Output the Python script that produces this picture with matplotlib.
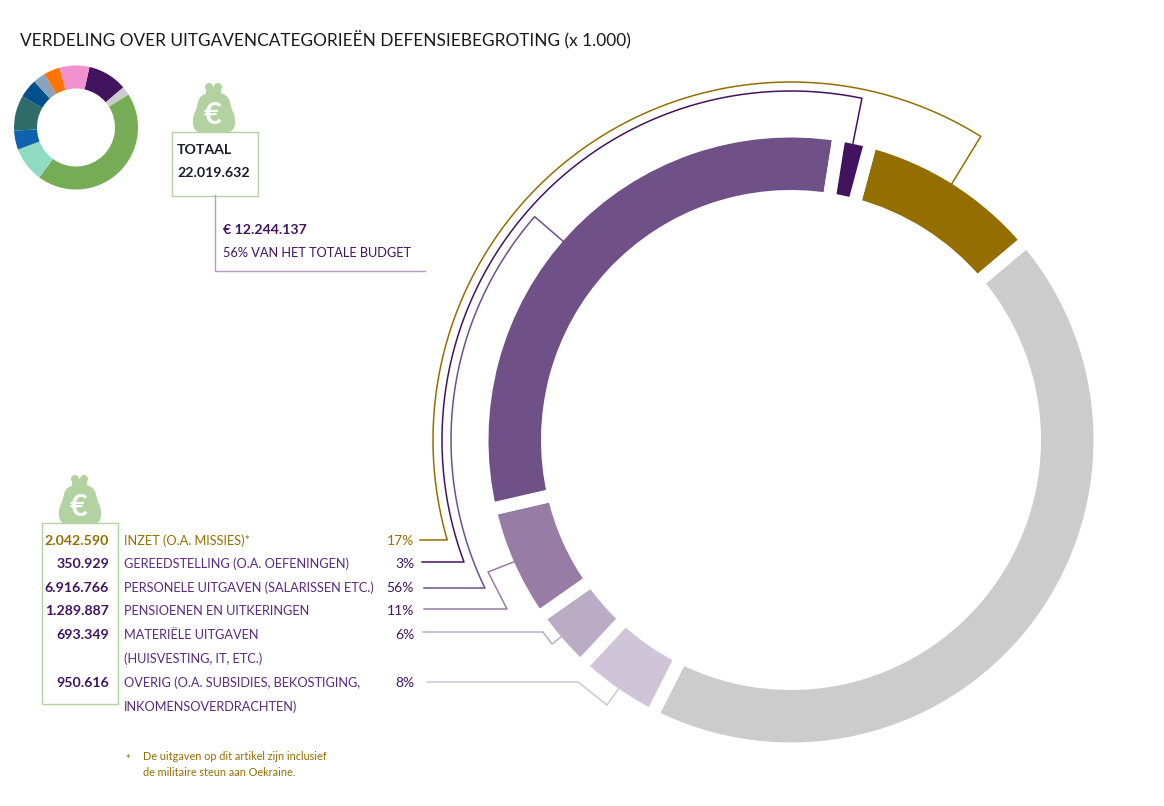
import numpy as np
import matplotlib
matplotlib.use("Agg")
import matplotlib.pyplot as plt
from matplotlib.patches import PathPatch, Circle, Rectangle
from matplotlib.path import Path

W, H = 1164, 806
plt.rcParams['font.family'] = ['Lato', 'DejaVu Sans']

# data, ring values are degrees
ring_names = ['Inzet', 'Rest', 'Overig', 'Materieel', 'Pensioenen', 'Personeel', 'Gereedstelling']
ring_values = [34.8, 157.0, 16.1, 12.0, 22.1, 112.0, 6.0]
ring_colors = ['#946f00', '#cccccc', '#d0c5d8', '#bbacc6', '#977ca5', '#6f5087', '#42145f']

small_values = [10.3, 2.3, 44.0, 9.1, 5.0, 9.2, 4.9, 3.2, 4.2, 7.8]
small_colors = ['#42145f', '#cccccc', '#77ac57', '#90dcc3', '#0f62ad', '#2f6b68',
                '#01508c', '#8aa3bd', '#ff7300', '#f291cf']

row_amounts = ['2.042.590', '350.929', '6.916.766', '1.289.887', '693.349', '950.616']
row_labels = ['INZET (O.A. MISSIES)*', 'GEREEDSTELLING (O.A. OEFENINGEN)',
              'PERSONELE UITGAVEN (SALARISSEN ETC.)', 'PENSIOENEN EN UITKERINGEN',
              'MATERIËLE UITGAVEN\n(HUISVESTING, IT, ETC.)',
              'OVERIG (O.A. SUBSIDIES, BEKOSTIGING,\nINKOMENSOVERDRACHTEN)']
row_pcts = ['17%', '3%', '56%', '11%', '6%', '8%']
row_y = [541, 564, 588, 611, 635, 683]

GOLD = '#946f00'
PURPLE = '#42145f'
GREEN = '#b2d2a2'
CX, CY = 791, 440


def pixel_axes(cx, cy, r):
    ax = fig.add_axes([(cx - r) / W, 1 - (cy + r) / H, 2 * r / W, 2 * r / H])
    ax.set_axis_off()
    return ax


def purse(ax, x, y):
    # x, y = top left of the icon, about 44 x 49 px
    verts = [(11, 12), (5, 15), (6, 24), (3, 29), (0, 34), (-1, 49), (8, 49), (14, 49), (30, 49), (36, 49),
             (45, 49), (44, 34), (41, 29), (38, 24), (39, 15), (33, 12), (26, 8), (18, 8), (11, 12)]
    codes = [Path.MOVETO] + [Path.CURVE4] * 18
    verts = [(x + a, y + b) for a, b in verts]
    ax.add_patch(PathPatch(Path(verts, codes), fc=GREEN, ec='none'))
    ax.add_patch(Circle((x + 17, y + 4), 4, fc=GREEN, ec='none'))
    ax.add_patch(Circle((x + 26, y + 4), 4, fc=GREEN, ec='none'))
    ax.add_patch(Rectangle((x + 14, y + 4), 15, 8, fc=GREEN, ec='none'))
    ax.text(x + 20, y + 32, '€', color='white', fontsize=22, fontweight='bold', ha='center', va='center')


def arc(r, a0, a1):
    # angles clockwise from top, degrees
    t = np.radians(np.linspace(a0, a1, 200))
    return CX + r * np.sin(t), CY - r * np.cos(t)


def angle(x, y):
    return np.degrees(np.arctan2(x - CX, -(y - CY)))


fig = plt.figure(figsize=(W / 100, H / 100), dpi=100)

# white edges make the gaps, so the nominal ring is half a gap larger on both sides
gap = 13
big = pixel_axes(CX, CY, 320)
big.pie(ring_values, colors=ring_colors, startangle=75, counterclock=False,
        radius=(302.5 + gap / 2) / 320,
        wedgeprops=dict(width=(302.5 - 250 + gap) / 320, edgecolor='white', linewidth=gap * 0.72))
big.set_xlim(-1, 1)
big.set_ylim(-1, 1)

small = pixel_axes(76, 127.5, 64)
small.pie(small_values, colors=small_colors, startangle=90 - 12.6, counterclock=False,
          radius=62 / 64, wedgeprops=dict(width=23 / 64))
small.set_xlim(-1, 1)
small.set_ylim(-1, 1)

ov = fig.add_axes([0, 0, 1, 1])
ov.set_xlim(0, W)
ov.set_ylim(H, 0)
ov.set_axis_off()
ov.patch.set_alpha(0)

ov.text(20, 40, 'VERDELING OVER UITGAVENCATEGORIEËN DEFENSIEBEGROTING (x 1.000)',
        fontsize=12.4, color='#1a1a1a', va='center')

# totaal box
purse(ov, 192, 83)
ov.add_patch(Rectangle((171.5, 131.5), 86, 64, fc='none', ec=GREEN, lw=1))
ov.text(177, 150, 'TOTAAL', fontsize=10.2, fontweight='bold', color='#1a1a2a', va='center')
ov.text(177, 173, '22.019.632', fontsize=10.2, fontweight='bold', color='#1a1a2a', va='center')
ov.plot([214.5, 214.5, 425], [195, 270.5, 270.5], color='#b79dc5', lw=1)
ov.text(223, 230, '€ 12.244.137', fontsize=10.2, fontweight='bold', color=PURPLE, va='center')
ov.text(223, 253, '56% VAN HET TOTALE BUDGET', fontsize=9.2, color=PURPLE, va='center')

# tabel
purse(ov, 58, 475)
ov.add_patch(Rectangle((41.5, 522.5), 76, 181, fc='none', ec=GREEN, lw=1))
for i in range(len(row_amounts)):
    col = GOLD if i == 0 else PURPLE
    ov.text(109, row_y[i], row_amounts[i], fontsize=10.2, fontweight='bold', color=col, ha='right', va='center')
    ov.text(124, row_y[i], row_labels[i].split('\n')[0], fontsize=9.2,
            color=GOLD if i == 0 else '#5b2a7d', va='center')
    if '\n' in row_labels[i]:
        ov.text(124, row_y[i] + 23.5, row_labels[i].split('\n')[1], fontsize=9.2, color='#5b2a7d', va='center')
    ov.text(414, row_y[i], row_pcts[i], fontsize=10, color=GOLD if i == 0 else PURPLE, ha='right', va='center')

ov.text(125, 759, '*', fontsize=8, color=GOLD, va='center')
ov.text(143, 756, 'De uitgaven op dit artikel zijn inclusief', fontsize=7.8, color=GOLD, va='center')
ov.text(143, 773, 'de militaire steun aan Oekraine.', fontsize=7.8, color=GOLD, va='center')

# leader lines
ax_, ay_ = arc(358, angle(447, 540), angle(981, 136))
ov.plot([420] + list(ax_) + [951], [540] + list(ay_) + [185], color=GOLD, lw=1.1)
ax_, ay_ = arc(349, angle(464, 562), angle(862, 98))
ov.plot([422] + list(ax_) + [853], [562] + list(ay_) + [143], color=PURPLE, lw=1.1)
ax_, ay_ = arc(340, angle(485, 588), angle(535, 217))
ov.plot([424] + list(ax_) + [564], [588] + list(ay_) + [242], color='#6f5087', lw=1.1)
ov.plot([424, 507, 488, 516], [609, 609, 572, 561], color='#977ca5', lw=1.1)
ov.plot([423, 543, 552, 562], [632, 632, 644, 636], color='#bbacc6', lw=1.1)
ov.plot([427, 578, 607, 619], [682, 682, 705, 688], color='#d0c5d8', lw=1.1)

fig.savefig('out.png', dpi=100, facecolor='white')
